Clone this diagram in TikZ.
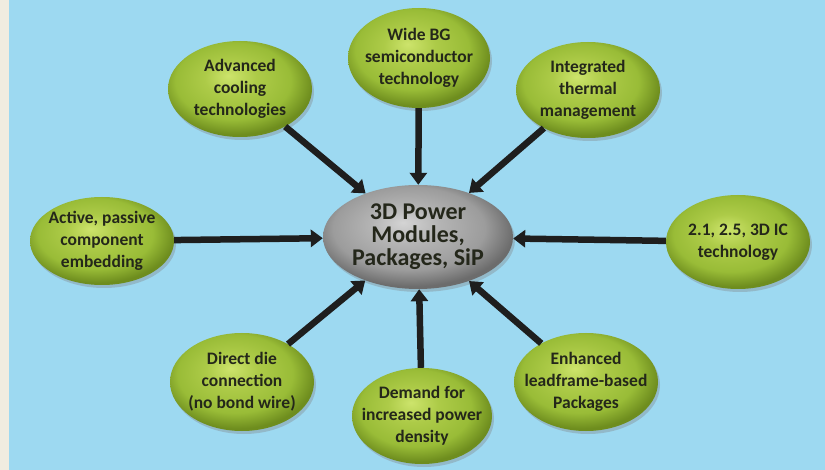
\documentclass[tikz,border=0pt]{standalone}
\usepackage{fontspec}
\setmainfont{Carlito}
\usetikzlibrary{shapes.geometric,arrows.meta,shadows}
\definecolor{bgblue}{HTML}{9DD9F1}
\definecolor{cream}{HTML}{F0ECE0}
\definecolor{ghl}{HTML}{CDE46C}
\definecolor{gmid}{HTML}{ADCB48}
\definecolor{gmid2}{HTML}{99BC37}
\definecolor{gdark}{HTML}{6E8D1E}
\definecolor{shl}{HTML}{D4D4D4}
\definecolor{smid}{HTML}{B4B4B4}
\definecolor{smid2}{HTML}{9C9C9C}
\definecolor{sdark}{HTML}{6C6C6C}
\definecolor{txt}{HTML}{24271A}
\definecolor{arr}{HTML}{1E1E1E}
\pgfdeclareradialshading{greenball}{\pgfpoint{-4bp}{7bp}}{color(0bp)=(ghl); color(9bp)=(gmid); color(20bp)=(gmid2); color(27bp)=(gdark); color(50bp)=(gdark)}
\pgfdeclareradialshading{grayball}{\pgfpoint{-4bp}{7bp}}{color(0bp)=(shl); color(9bp)=(smid); color(20bp)=(smid2); color(27bp)=(sdark); color(50bp)=(sdark)}
\tikzset{
  btext/.style={align=center, inner sep=0pt, text=txt,
    font=\fontsize{17.5}{22}\selectfont\bfseries},
  htext/.style={align=center, inner sep=0pt, text=txt,
    font=\fontsize{24}{23}\selectfont\bfseries},
  bubble/.style={ellipse, inner sep=0pt, shading=greenball,
    drop shadow={opacity=0.35, shadow xshift=2pt, shadow yshift=-3pt},
    minimum width=144pt, minimum height=96pt, label={[btext]center:{#1}}},
  hub/.style={ellipse, inner sep=0pt, shading=grayball,
    drop shadow={opacity=0.35, shadow xshift=2pt, shadow yshift=-3pt},
    minimum width=190pt, minimum height=104pt, label={[htext]center:{#1}}},
  link/.style={draw=arr, line width=6.5pt, -{Triangle[length=12pt,width=17pt]}}
}
\begin{document}
\begin{tikzpicture}[x=1pt,y=-1pt]
\useasboundingbox (0,0) rectangle (825,470);
\fill[bgblue] (0,0) rectangle (825,470);
\fill[cream] (0,0) rectangle (9,470);

\node[hub={3D Power\\Modules,\\Packages, SiP}] (c) at (418,237) {};

\node[bubble={Wide BG\\semiconductor\\technology}, minimum width=142pt, minimum height=100pt] (wide) at (419,58) {};
\node[bubble={Advanced\\cooling\\technologies}] (adv) at (240,89) {};
\node[bubble={Integrated\\thermal\\management}] (integ) at (588,90) {};
\node[bubble={Active, passive\\component\\embedding}, minimum height=88pt] (act) at (102,241) {};
\node[bubble={2.1, 2.5, 3D IC\\technology}, minimum height=94pt] (ic) at (738,242) {};
\node[bubble={Direct die\\connection\\(no bond wire)}, minimum height=98pt] (dir) at (242,382) {};
\node[bubble={Demand for\\increased power\\density}, minimum width=140pt] (dem) at (422,416) {};
\node[bubble={Enhanced\\leadframe-based\\Packages}, minimum height=98pt] (enh) at (586,382) {};

\draw[link] (wide) -- (c);
\draw[link] (adv) -- (c);
\draw[link] (integ) -- (c);
\draw[link] (act) -- (c);
\draw[link] (ic) -- (c);
\draw[link] (dir) -- (c);
\draw[link] (dem) -- (c);
\draw[link] (enh) -- (c);
\end{tikzpicture}
\end{document}
